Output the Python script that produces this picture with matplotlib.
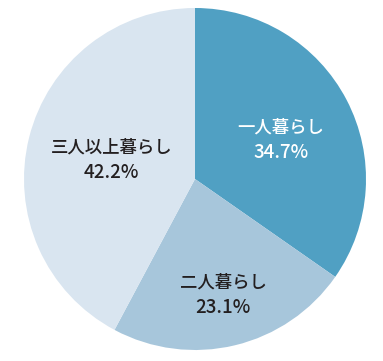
import numpy as np
import matplotlib
matplotlib.use("Agg")
import matplotlib.pyplot as plt

plt.rcParams['font.family'] = ['Noto Sans CJK JP', 'DejaVu Sans']

labels = ["一人暮らし", "二人暮らし", "三人以上暮らし"]
values = [34.7, 23.1, 42.2]
colors = ["#50a0c3", "#a7c6db", "#d9e5f0"]
text_colors = ["white", "#231f20", "#231f20"]
label_dist = [0.55, 0.70, 0.50]
label_ang_shift = [-3, 0, 1]

W, H = 383, 361
fig = plt.figure(figsize=(W/100, H/100), dpi=100)
cx, cy, r = 195, 179, 171
ax = fig.add_axes([(cx - r)/W, (H - cy - r)/H, 2*r/W, 2*r/H])
wedges, _ = ax.pie(values, colors=colors, startangle=90, counterclock=False,
                   radius=1, wedgeprops=dict(linewidth=0))
ax.set_xlim(-1, 1)
ax.set_ylim(-1, 1)
ax.set_aspect('auto')
ax.axis('off')

for w, lab, v, tc, d, s in zip(wedges, labels, values, text_colors, label_dist, label_ang_shift):
    ang = np.deg2rad((w.theta1 + w.theta2) / 2 + s)
    pos = (d*np.cos(ang), d*np.sin(ang))
    ax.annotate(lab, xy=pos, xytext=(0, 9), textcoords='offset points',
                ha='center', va='center', color=tc, fontsize=12.5, fontweight='medium')
    ax.annotate(f"{v:.1f}%", xy=pos, xytext=(0, -9), textcoords='offset points',
                ha='center', va='center', color=tc, fontsize=13.5, fontweight='medium')

fig.savefig("out.png", dpi=100)
